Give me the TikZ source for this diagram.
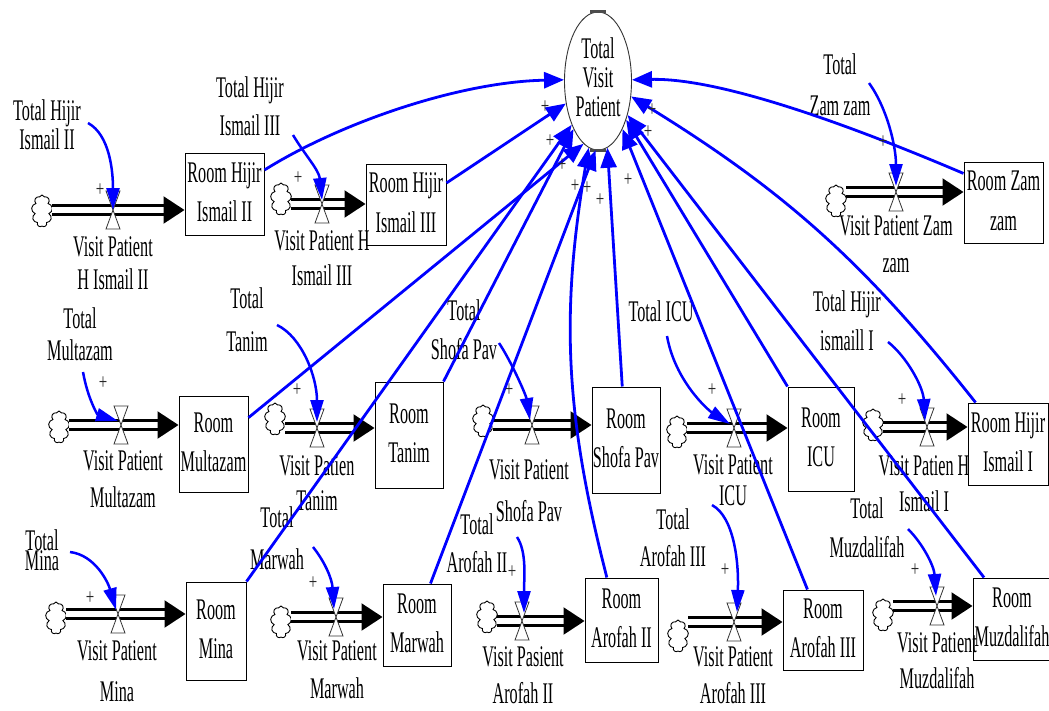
\documentclass[tikz,border=0pt]{standalone}
\usepackage{fontspec}
\setmainfont{Liberation Serif}
\usepackage{graphicx}
\usetikzlibrary{arrows.meta,shapes.geometric,shapes.symbols,calc}
\newcommand\vt[2][20.5]{\scalebox{1}[1.85]{\fontsize{16.2}{#1}\selectfont\begin{tabular}{@{}c@{}}#2\end{tabular}}}
\newcommand\pl{\scalebox{1}[1.5]{\fontsize{15}{15}\selectfont +}}
\begin{document}
\begin{tikzpicture}[x=1pt,y=-1pt,
  stock/.style={draw=black, line width=1pt, rectangle, inner sep=0pt},
  lbl/.style={inner sep=0pt},
  cloudy/.style={cloud, cloud puffs=9, cloud ignores aspect, draw=black, line width=0.9pt, fill=white, minimum width=21pt, minimum height=32pt, inner sep=0pt},
  pipe/.style={draw=black, line width=2.3pt, double=white, double distance=6.5pt, -{Triangle[length=21pt,width=27pt]}},
  infl/.style={draw=blue, line width=2.5pt, -{Triangle[length=22pt,width=13pt]}},
  link/.style={draw=blue, line width=2.8pt, -{Triangle[length=20pt,width=16pt]}},
  plus/.style={inner sep=0pt, text=black!85},
  valve/.pic={\draw[fill=white, draw=black!80, line width=0.8pt] (-7,-19) -- (7,-19) -- (0,0) -- cycle (-7,19) -- (7,19) -- (0,0) -- cycle;}
]
\fill[white] (0,0) rectangle (1049,710);
\useasboundingbox (0,0) rectangle (1049,710);

% central auxiliary
\node[ellipse, draw=black!80, line width=0.9pt, minimum width=67pt, minimum height=138pt, inner sep=0pt] (tvp) at (598,81) {\vt[15.7]{Total\\Visit\\Patient}};
\draw[line width=2.5pt, black!70] ([xshift=-8pt]tvp.north) -- ([xshift=8pt]tvp.north);
\draw[line width=2.5pt, black!70] ([xshift=-8pt]tvp.south) -- ([xshift=8pt]tvp.south);

% stocks
\node[stock, minimum width=79pt, minimum height=82pt] (b1) at (224.5,194) {\vt[21.6]{Room Hijir\\Ismail II}};
\node[stock, minimum width=80pt, minimum height=81pt] (b2) at (406,204.5) {\vt[21.6]{Room Hijir\\Ismail III}};
\node[stock, minimum width=79pt, minimum height=81pt] (b3) at (1003.5,202.5) {\vt[21.6]{Room Zam\\zam}};
\node[stock, minimum width=69pt, minimum height=96pt] (b4) at (213.5,444) {\vt[21.6]{Room\\Multazam}};
\node[stock, minimum width=68pt, minimum height=106pt] (b5) at (409,435) {\vt[21.6]{Room\\Tanim}};
\node[stock, minimum width=68pt, minimum height=106pt] (b6) at (626,440) {\vt[21.6]{Room\\Shofa Pav}};
\node[stock, minimum width=66pt, minimum height=104pt] (b7) at (821,439) {\vt[21.6]{Room\\ICU}};
\node[stock, minimum width=80pt, minimum height=82pt] (b8) at (1008,444) {\vt[21.6]{Room Hijir\\Ismail I}};
\node[stock, minimum width=60pt, minimum height=98pt] (b9) at (216,631) {\vt[21.6]{Room\\Mina}};
\node[stock, minimum width=68pt, minimum height=82pt] (b10) at (417,625) {\vt[21.6]{Room\\Marwah}};
\node[stock, minimum width=73pt, minimum height=84pt] (b11) at (621.5,620) {\vt[21.6]{Room\\Arofah II}};
\node[stock, minimum width=80pt, minimum height=80pt] (b12) at (823,630) {\vt[21.6]{Room\\Arofah III}};
\node[stock, minimum width=78pt, minimum height=82pt] (b13) at (1012,619) {\vt[21.6]{Room\\Muzdalifah}};

% clouds
\node[cloudy] (c1) at (42,211) {};
\node[cloudy] (c2) at (281,199) {};
\node[cloudy] (c3) at (836,201) {};
\node[cloudy] (c4) at (59,427) {};
\node[cloudy] (c5) at (275,419) {};
\node[cloudy] (c6) at (483,421) {};
\node[cloudy] (c7) at (677,432) {};
\node[cloudy] (c8) at (873,425) {};
\node[cloudy] (c9) at (56,618) {};
\node[cloudy] (c10) at (281,622) {};
\node[cloudy] (c11) at (487,617) {};
\node[cloudy] (c12) at (678,636) {};
\node[cloudy] (c13) at (883,615) {};

% valve positions
\coordinate (v1) at (113,210);
\coordinate (v2) at (322,204);
\coordinate (v3) at (896,192);
\coordinate (v4) at (121,425);
\coordinate (v5) at (317,428);
\coordinate (v6) at (532,425);
\coordinate (v7) at (734,428);
\coordinate (v8) at (927,427);
\coordinate (v9) at (118,614);
\coordinate (v10) at (336,617);
\coordinate (v11) at (522,621);
\coordinate (v12) at (734,622);
\coordinate (v13) at (937,606);

% pipes
\draw[pipe] (c1.east |- v1) -- (v1 -| b1.west);
\draw[pipe] (c2.east |- v2) -- (v2 -| b2.west);
\draw[pipe] (c3.east |- v3) -- (v3 -| b3.west);
\draw[pipe] (c4.east |- v4) -- (v4 -| b4.west);
\draw[pipe] (c5.east |- v5) -- (v5 -| b5.west);
\draw[pipe] (c6.east |- v6) -- (v6 -| b6.west);
\draw[pipe] (c7.east |- v7) -- (v7 -| b7.west);
\draw[pipe] (c8.east |- v8) -- (v8 -| b8.west);
\draw[pipe] (c9.east |- v9) -- (v9 -| b9.west);
\draw[pipe] (c10.east |- v10) -- (v10 -| b10.west);
\draw[pipe] (c11.east |- v11) -- (v11 -| b11.west);
\draw[pipe] (c12.east |- v12) -- (v12 -| b12.west);
\draw[pipe] (c13.east |- v13) -- (v13 -| b13.west);

% valves
\foreach \v in {v1,v2,v3,v4,v5,v6,v7,v8,v9,v10,v11,v12,v13} \pic at (\v) {valve};

% flow labels
\node[lbl] (f1) at (113,266) {\vt[17.8]{Visit Patient\\H Ismail II}};
\node[lbl] (f2) at (322,261) {\vt[18.9]{Visit Patient H\\Ismail III}};
\node[lbl] (f3) at (896,247) {\vt[20]{Visit Patient Zam\\zam}};
\node[lbl] (f4) at (123,482) {\vt[20]{Visit Patient\\Multazam}};
\node[lbl] (f5) at (317,486) {\vt[18.9]{Visit Patien\\Tanim}};
\node[lbl] (f6) at (529,492) {\vt[22.7]{Visit Patient\\Shofa Pav}};
\node[lbl] (f7) at (733,484) {\vt[16.8]{Visit Patient\\ICU}};
\node[lbl] (f8) at (924,486) {\vt[19.5]{Visit Patien H\\Ismail I}};
\node[lbl] (f9) at (117,673) {\vt[22.2]{Visit Patient\\Mina}};
\node[lbl] (f10) at (337,672) {\vt[20.5]{Visit Patient\\Marwah}};
\node[lbl] (f11) at (523,678) {\vt[20]{Visit Pasient\\Arofah II}};
\node[lbl] (f12) at (733,678) {\vt[20]{Visit Patient\\Arofah III}};
\node[lbl] (f13) at (937,663) {\vt[19.5]{Visit Patient\\Muzdalifah}};

% auxiliary labels
\node[lbl] (a1) at (47,129) {\vt[15.1]{Total Hijir\\Ismail II}};
\node[lbl] (a2) at (250,109) {\vt[20.5]{Total Hijir\\Ismail III}};
\node[lbl] (a3) at (840,87) {\vt[22.2]{Total\\Zam zam}};
\node[lbl] (a4) at (80,338) {\vt[17.3]{Total\\Multazam}};
\node[lbl] (a5) at (247,321) {\vt[23.2]{Total\\Tanim}};
\node[lbl] (a6) at (464,332) {\vt[21.6]{Total\\Shofa Pav}};
\node[lbl] (a7) at (661,314) {\vt{Total ICU}};
\node[lbl] (a8) at (847,323) {\vt[21.6]{Total Hijir\\ismaill I}};
\node[lbl] (a9) at (42,553) {\vt{Total\\[-9.7pt]Mina}};
\node[lbl] (a10) at (277,540) {\vt[22.7]{Total\\Marwah}};
\node[lbl] (a11) at (477,546) {\vt[20.5]{Total\\Arofah II}};
\node[lbl] (a12) at (673,541) {\vt[20]{Total\\Arofah III}};
\node[lbl] (a13) at (867,530) {\vt[21.6]{Total\\Muzdalifah}};

% influences on flows
\draw[infl] ([shift={(41,-6)}]a1.center) .. controls +(22,12) and +(0,-38) .. (v1);
\draw[infl] ([shift={(43,26)}]a2.center) .. controls +(12,20) and +(-3,-30) .. ([shift={(0,-4)}]v2);
\draw[infl] ([shift={(29,-4)}]a3.center) .. controls +(18,25) and +(0,-40) .. ([shift={(0,-6)}]v3);
\draw[infl] ([shift={(3,34)}]a4.center) .. controls +(5,28) and +(-20,-6) .. ([shift={(-3,-4)}]v4);
\draw[infl] ([shift={(30,4)}]a5.center) .. controls +(25,12) and +(0,-45) .. ([shift={(0,-6)}]v5);
\draw[infl] ([shift={(35,11)}]a6.center) .. controls +(12,18) and +(-4,-25) .. ([shift={(-2,-5)}]v6);
\draw[infl] ([shift={(6,22)}]a7.center) .. controls +(8,45) and +(-22,-14) .. ([shift={(-4,-4)}]v7);
\draw[infl] ([shift={(41,19)}]a8.center) .. controls +(18,14) and +(-2,-35) .. ([shift={(-2,-6)}]v8);
\draw[infl] ([shift={(28,-1)}]a9.center) .. controls +(25,3) and +(-8,-28) .. ([shift={(-2,-4)}]v9);
\draw[infl] ([shift={(36,7)}]a10.center) .. controls +(12,15) and +(-2,-30) .. ([shift={(-2,-8)}]v10);
\draw[infl] ([shift={(40,-9)}]a11.center) .. controls +(10,15) and +(0,-35) .. ([shift={(2,-8)}]v11);
\draw[infl] ([shift={(39,-36)}]a12.center) .. controls +(22,12) and +(2,-50) .. ([shift={(3,-10)}]v12);
\draw[infl] ([shift={(41,-1)}]a13.center) .. controls +(15,15) and +(-2,-30) .. ([shift={(-1,-10)}]v13);

% links to Total Visit Patient
\draw[link] (b1.31) .. controls +(75,-47) and +(-105,2) .. (tvp.178);
\draw[link] (b2.28) -- (tvp.215);
\draw[link] (b4.37) -- (tvp.257);
\draw[link] (b9.north east) -- (tvp.239);
\draw[link] (b5.north east) -- (tvp.243);
\draw[link] (b10.72) -- (tvp.268);
\draw[link] (b11.109) to[bend left=12] (tvp.262);
\draw[link] (b6.94) -- (tvp.278);
\draw[link] (b12.111) -- (tvp.297);
\draw[link] (b7.north west) -- (tvp.306);
\draw[link] (b13.124) -- (tvp.311);
\draw[link] (b8.128) to[bend right=10] (tvp.335);
\draw[link] (b3.144) .. controls +(-115,-49) and +(88,-2) .. (tvp.2);

% polarity signs
\foreach \p/\x/\y in {p1/100/190, p2/298/178, p3/883/142, p4/103/383, p5/297/390, p6/509/390, p7/712/390, p8/902/400, p9/90/598, p10/313/583, p11/512/572, p12/725/570, p13/915/570, p14/545/107, p15/550/141, p16/562/165, p17/575/186, p18/587/188, p19/600/200, p20/628/180, p21/652/110, p22/648/132}
  \node[plus] (\p) at (\x,\y) {\pl};
\end{tikzpicture}
\end{document}
